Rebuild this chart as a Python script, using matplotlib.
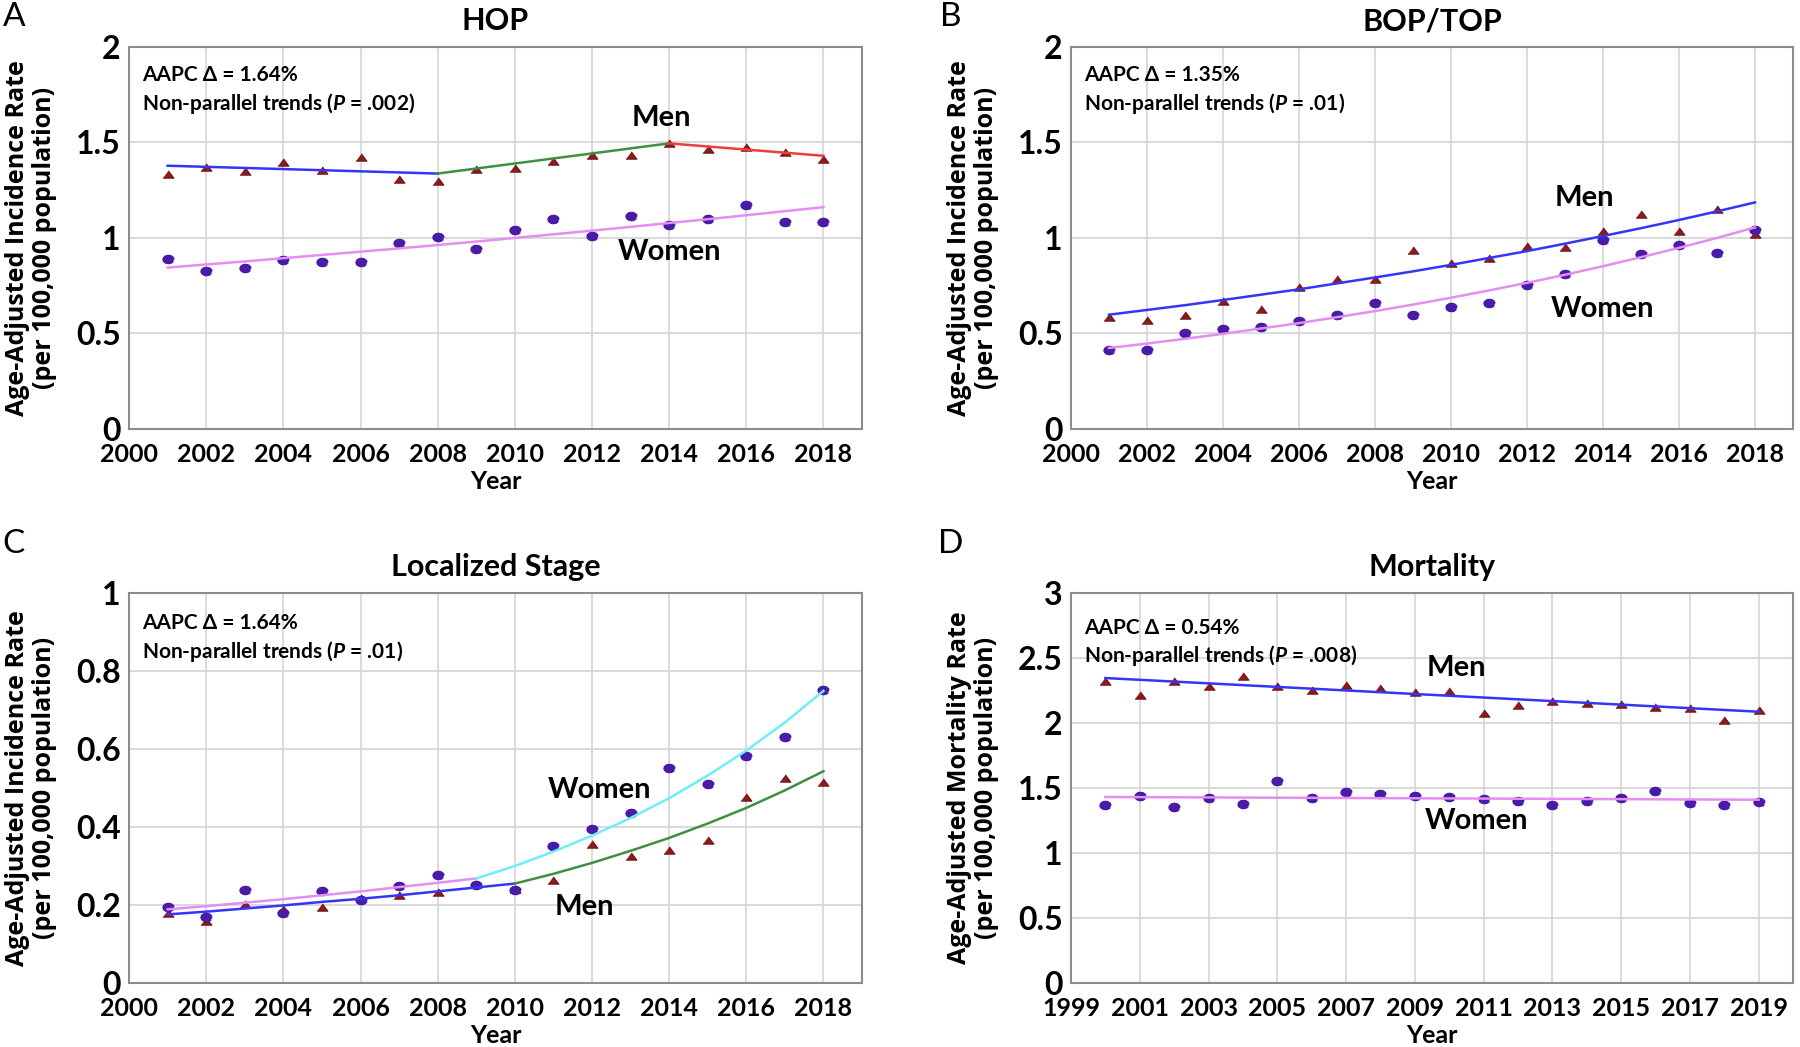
import matplotlib
matplotlib.use("Agg")
import matplotlib.pyplot as plt

plt.rcParams["font.family"] = ["Lato", "DejaVu Sans"]
plt.rcParams["mathtext.fontset"] = "custom"
plt.rcParams["mathtext.it"] = "Lato:italic:bold"
plt.rcParams["mathtext.rm"] = "Lato:bold"

# ---- data ----
years = list(range(2001, 2019))
years_mort = list(range(2000, 2020))

hop_men = [1.333, 1.372, 1.352, 1.396, 1.356, 1.424, 1.306, 1.297, 1.359, 1.368,
           1.401, 1.434, 1.436, 1.497, 1.463, 1.477, 1.451, 1.413]
hop_women = [0.892, 0.828, 0.840, 0.882, 0.875, 0.873, 0.974, 1.005, 0.941, 1.043,
             1.097, 1.012, 1.115, 1.069, 1.098, 1.171, 1.084, 1.084]
hop_men_fit_years = [2001, 2008, 2014, 2018]
hop_men_fit = [1.378, 1.337, 1.495, 1.430]
hop_women_fit = [0.845, 0.861, 0.877, 0.894, 0.911, 0.928, 0.945, 0.963, 0.981, 1.000,
                 1.019, 1.038, 1.058, 1.078, 1.098, 1.119, 1.140, 1.161]

bop_men = [0.584, 0.572, 0.594, 0.672, 0.630, 0.744, 0.783, 0.784, 0.939, 0.867,
           0.897, 0.957, 0.953, 1.035, 1.125, 1.035, 1.151, 1.021]
bop_women = [0.412, 0.412, 0.500, 0.525, 0.533, 0.563, 0.595, 0.661, 0.597, 0.639,
             0.661, 0.754, 0.812, 0.991, 0.915, 0.964, 0.920, 1.042]
bop_men_fit = [0.598, 0.623, 0.648, 0.675, 0.703, 0.731, 0.762, 0.793, 0.825, 0.859,
               0.895, 0.931, 0.970, 1.010, 1.051, 1.094, 1.139, 1.186]
bop_women_fit = [0.424, 0.447, 0.472, 0.498, 0.526, 0.554, 0.585, 0.617, 0.651, 0.687,
                 0.725, 0.765, 0.807, 0.852, 0.899, 0.948, 1.000, 1.055]

loc_men = [0.180, 0.160, 0.203, 0.189, 0.196, 0.219, 0.225, 0.234, 0.253, 0.240,
           0.263, 0.357, 0.325, 0.342, 0.366, 0.478, 0.525, 0.515]
loc_women = [0.195, 0.169, 0.238, 0.179, 0.237, 0.212, 0.250, 0.277, 0.251, 0.238,
             0.351, 0.394, 0.435, 0.551, 0.511, 0.581, 0.632, 0.752]
loc_men_fit1 = [0.176, 0.183, 0.191, 0.199, 0.208, 0.216, 0.225, 0.235, 0.245, 0.255]
loc_men_fit2 = [0.255, 0.280, 0.308, 0.339, 0.372, 0.409, 0.449, 0.494, 0.543]
loc_women_fit1 = [0.189, 0.197, 0.206, 0.215, 0.225, 0.235, 0.246, 0.257, 0.268]
loc_women_fit2 = [0.268, 0.300, 0.337, 0.378, 0.423, 0.474, 0.532, 0.596, 0.668, 0.749]

mort_men = [2.326, 2.218, 2.323, 2.282, 2.359, 2.287, 2.256, 2.295, 2.267, 2.236,
            2.244, 2.080, 2.139, 2.167, 2.156, 2.144, 2.121, 2.115, 2.023, 2.097]
mort_women = [1.367, 1.438, 1.351, 1.426, 1.377, 1.551, 1.423, 1.467, 1.454, 1.438,
              1.431, 1.413, 1.400, 1.368, 1.403, 1.423, 1.477, 1.387, 1.369, 1.392]
mort_fit_years = [2000, 2019]
mort_men_fit = [2.346, 2.087]
mort_women_fit = [1.431, 1.410]

# ---- styling ----
TRI = [(-1, -0.67), (1, -0.67), (0, 0.67)]
ELL = [(1.0, 0.0), (0.87, 0.37), (0.5, 0.65), (0.0, 0.75), (-0.5, 0.65), (-0.87, 0.37),
       (-1.0, 0.0), (-0.87, -0.37), (-0.5, -0.65), (0.0, -0.75), (0.5, -0.65), (0.87, -0.37)]
men_c = "#8e1b1b"
women_c = "#4a1aa8"
blue = "#3535f5"
green = "#3f8f43"
red = "#f03c3c"
pink = "#e38ef0"
cyan = "#70eef4"

incid_label = "Age-Adjusted Incidence Rate\n(per 100,000 population)"
mort_label = "Age-Adjusted Mortality Rate\n(per 100,000 population)"

fig = plt.figure(figsize=(18, 10.47), dpi=100)

rects = {
    "A": [0.0717, 0.5903, 0.4072, 0.3649],
    "B": [0.595, 0.5903, 0.4011, 0.3649],
    "C": [0.0717, 0.0611, 0.4072, 0.3725],
    "D": [0.595, 0.0611, 0.4011, 0.3725],
}


def setup(ax, title, ylab, ymax, ystep, xlo, xhi, xt, aapc, pval, ann_y):
    ax.set_xlim(xlo, xhi)
    ax.set_ylim(0, ymax)
    ax.set_xticks(xt)
    ax.set_xticklabels([str(t) for t in xt])
    yt = [i * ystep for i in range(int(round(ymax / ystep)) + 1)]
    ax.set_yticks(yt)
    ax.set_yticklabels([f"{v:g}" for v in yt])
    ax.grid(True, color="#d4d4d4", lw=1.2)
    ax.set_axisbelow(True)
    for s in ax.spines.values():
        s.set_color("#8c8c8c")
        s.set_linewidth(1.5)
    ax.tick_params(axis="x", length=0, pad=10)
    ax.tick_params(axis="y", length=0, pad=6)
    for lab in ax.get_xticklabels():
        lab.set_fontsize(18)
        lab.set_fontweight("bold")
    for lab in ax.get_yticklabels():
        lab.set_fontsize(23)
        lab.set_fontweight("bold")
    ax.set_title(title, fontsize=22, fontweight="bold", pad=12)
    ax.set_xlabel("Year", fontsize=18, fontweight="bold", labelpad=3)
    pos = ax.get_position()
    fig.text(pos.x0 - 98 / 1800, pos.y0 + pos.height / 2, ylab, rotation=90,
             ha="center", va="center", fontsize=18, fontweight="bold",
             family=["Open Sans", "DejaVu Sans"], linespacing=1.15)
    ax.text(0.018, ann_y[0], "AAPC \u0394 = " + aapc, transform=ax.transAxes,
            fontsize=15, fontweight="bold", va="center", ha="left")
    ax.text(0.018, ann_y[1], "Non-parallel trends ($\\mathit{P}$ = " + pval + ")",
            transform=ax.transAxes, fontsize=15, fontweight="bold", va="center", ha="left")


def points(ax, x, men, women):
    ax.plot(x, men, ls="none", marker=TRI, ms=8, mfc=men_c, mec="#5a0c0c", mew=0.6, zorder=3)
    ax.plot(x, women, ls="none", marker=ELL, ms=8, mfc=women_c, mec=women_c, zorder=3)


def label(ax, x, y, s):
    ax.text(x, y, s, fontsize=21, fontweight="bold", ha="center", va="center", zorder=5)


# A: HOP
ax = fig.add_axes(rects["A"])
setup(ax, "HOP", incid_label, 2, 0.5, 2000, 2019, list(range(2000, 2019, 2)),
      "1.64%", ".002", (0.927, 0.853))
points(ax, years, hop_men, hop_women)
seg_cols = [blue, green, red]
for i in range(3):
    ax.plot(hop_men_fit_years[i:i + 2], hop_men_fit[i:i + 2], color=seg_cols[i], lw=1.8, zorder=4)
ax.plot(years, hop_women_fit, color=pink, lw=1.8, zorder=4)
label(ax, 2013.8, 1.63, "Men")
label(ax, 2014.0, 0.925, "Women")

# B: BOP/TOP
ax = fig.add_axes(rects["B"])
setup(ax, "BOP/TOP", incid_label, 2, 0.5, 2000, 2019, list(range(2000, 2019, 2)),
      "1.35%", ".01", (0.927, 0.853))
points(ax, years, bop_men, bop_women)
ax.plot(years, bop_men_fit, color=blue, lw=1.8, zorder=4)
ax.plot(years, bop_women_fit, color=pink, lw=1.8, zorder=4)
label(ax, 2013.5, 1.21, "Men")
label(ax, 2014.0, 0.626, "Women")

# C: Localized stage
ax = fig.add_axes(rects["C"])
setup(ax, "Localized Stage", incid_label, 1, 0.2, 2000, 2019, list(range(2000, 2019, 2)),
      "1.64%", ".01", (0.923, 0.849))
points(ax, years, loc_men, loc_women)
ax.plot(years[:10], loc_men_fit1, color=blue, lw=1.8, zorder=4)
ax.plot(years[9:], loc_men_fit2, color=green, lw=1.8, zorder=4)
ax.plot(years[:9], loc_women_fit1, color=pink, lw=1.8, zorder=4)
ax.plot(years[8:], loc_women_fit2, color=cyan, lw=1.8, zorder=4)
label(ax, 2012.2, 0.495, "Women")
label(ax, 2011.8, 0.195, "Men")

# D: Mortality
ax = fig.add_axes(rects["D"])
setup(ax, "Mortality", mort_label, 3, 0.5, 1999, 2020, list(range(1999, 2020, 2)),
      "0.54%", ".008", (0.910, 0.841))
points(ax, years_mort, mort_men, mort_women)
ax.plot(mort_fit_years, mort_men_fit, color=blue, lw=1.8, zorder=4)
ax.plot(mort_fit_years, mort_women_fit, color=pink, lw=1.8, zorder=4)
label(ax, 2010.2, 2.42, "Men")
label(ax, 2010.8, 1.245, "Women")

# panel letters
for key, (px, py) in {"A": (14, 17), "B": (951, 17), "C": (14, 544), "D": (951, 544)}.items():
    fig.text(px / 1800, 1 - py / 1047, key, fontsize=24, ha="center", va="center")

fig.savefig("out.png", dpi=100)
